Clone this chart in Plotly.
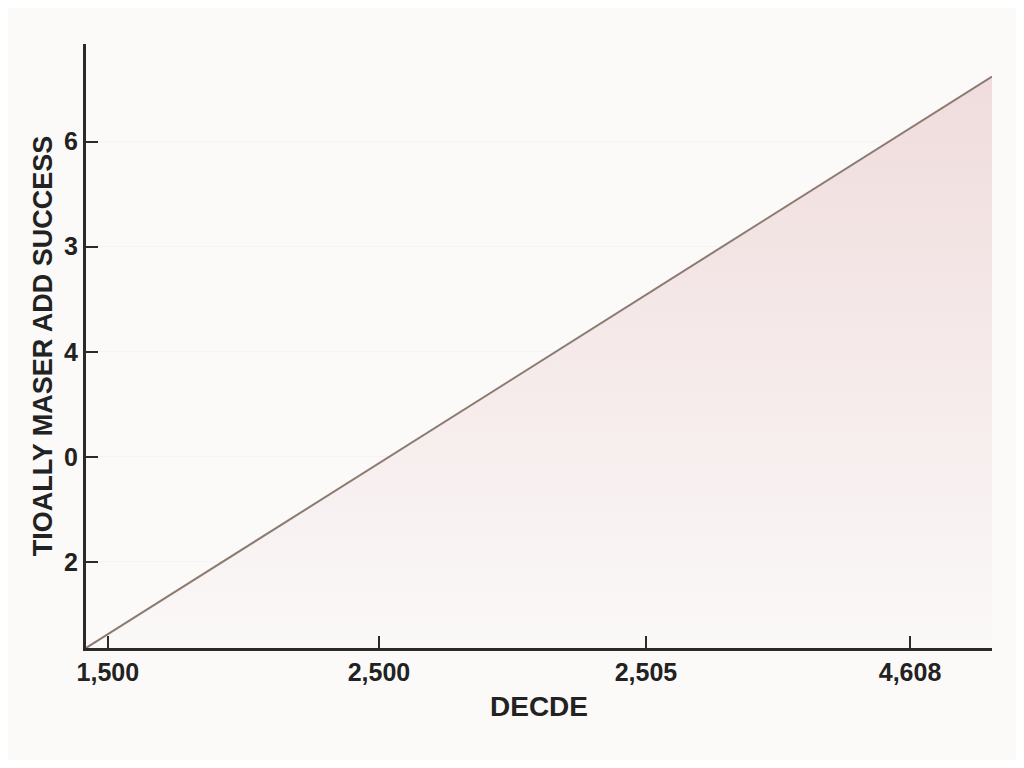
import plotly.graph_objects as go

# Data (positional data units)
x_tick_pos = [0.082, 1.097, 2.097, 3.086]
x_tick_labels = ["1,500", "2,500", "2,505", "4,608"]
y_tick_pos = [0.82, 1.82, 2.82, 3.82, 4.82]
y_tick_labels = ["2", "0", "4", "3", "6"]
line_x = [0.0, 3.393]
line_y = [0.0, 5.44]

FONT = "Liberation Sans Narrow, Liberation Sans, Arial, sans-serif"

fig = go.Figure()
fig.add_trace(go.Scatter(
    x=line_x, y=line_y, mode="lines",
    line=dict(color="#8b7b70", width=2),
    fill="tozeroy",
    fillgradient=dict(type="vertical",
                      colorscale=[[0, "rgba(251,248,248,1)"], [1, "rgba(240,220,220,1)"]]),
    showlegend=False, hoverinfo="skip",
))

fig.update_layout(
    width=1008, height=752,
    margin=dict(l=78, r=24, t=36, b=112),
    paper_bgcolor="#fbfaf9", plot_bgcolor="#fbfaf9",
    font=dict(family=FONT, color="#222222", size=24),
    xaxis=dict(
        range=[0, 3.393], tickvals=x_tick_pos, ticktext=x_tick_labels,
        showline=True, linecolor="#2a2a2a", linewidth=3,
        ticks="inside", ticklen=12, tickwidth=2, tickcolor="#2a2a2a",
        showgrid=False, zeroline=False,
        tickfont=dict(family=FONT, size=25, color="#222222", weight="bold"),
        title=dict(text="DECDE", font=dict(family=FONT, size=28, color="#222222", weight="bold"), standoff=12),
    ),
    yaxis=dict(
        range=[0, 5.75], tickvals=y_tick_pos, ticktext=y_tick_labels,
        showline=True, linecolor="#2a2a2a", linewidth=3,
        ticks="inside", ticklen=12, tickwidth=2, tickcolor="#2a2a2a",
        showgrid=True, gridcolor="rgba(0,0,0,0.025)",
        zeroline=False,
        tickfont=dict(family=FONT, size=25, color="#222222", weight="bold"),
        title=dict(text="TIOALLY MASER ADD SUCCESS", font=dict(family=FONT, size=27, color="#222222", weight="bold"), standoff=4),
    ),
)

fig.write_html("out.html")
